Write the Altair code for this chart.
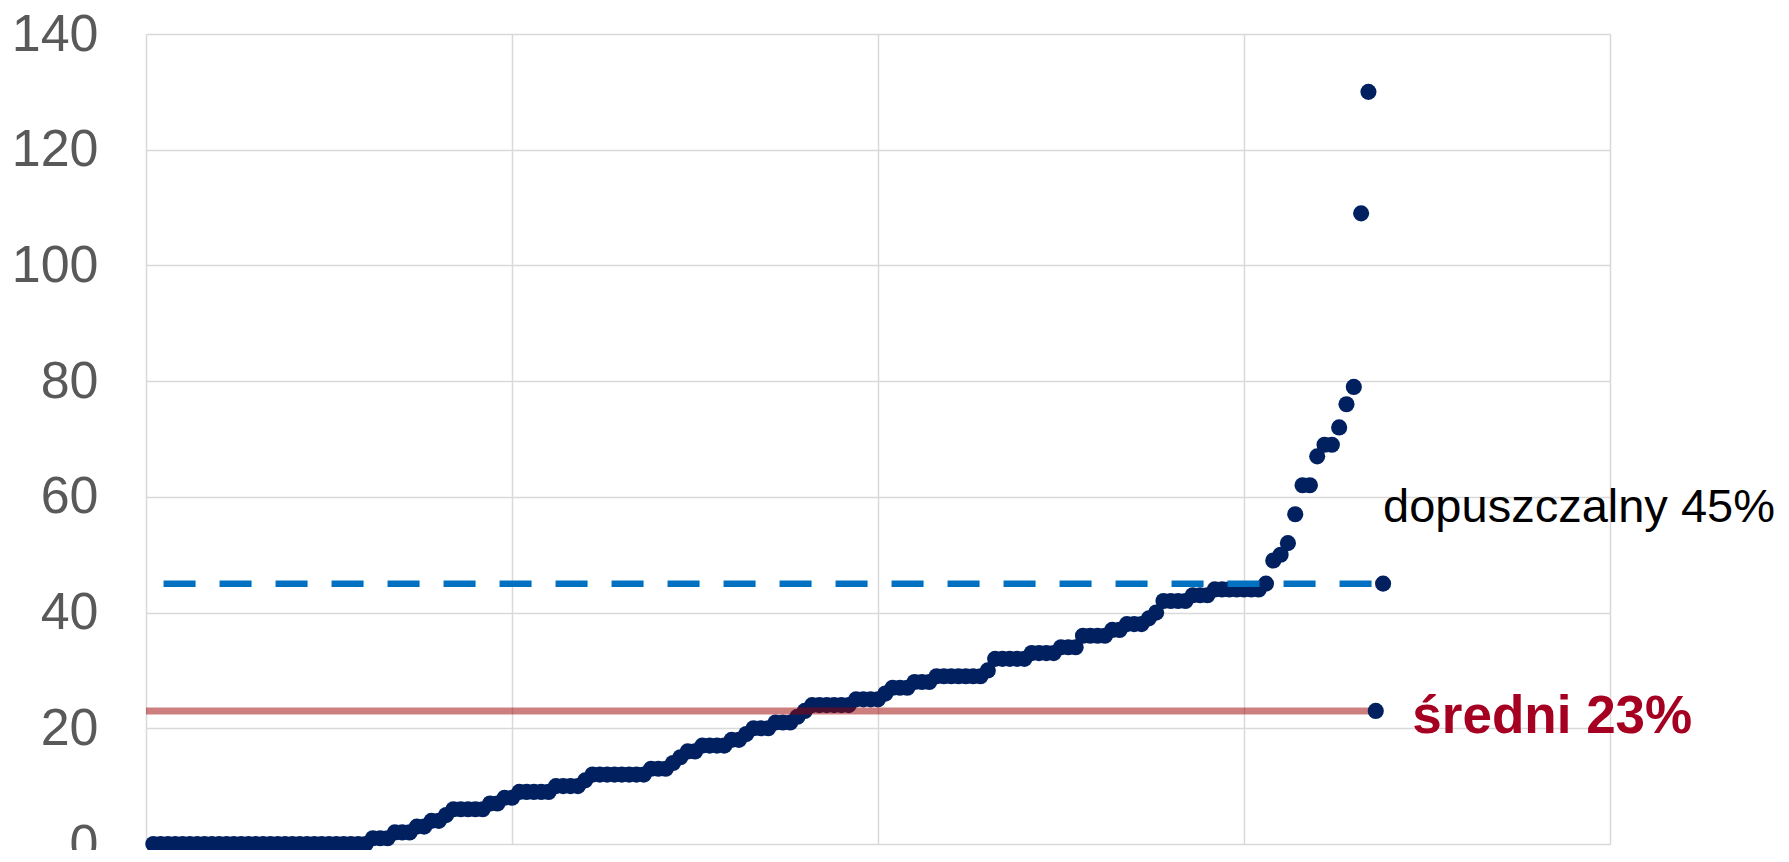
import altair as alt
import pandas as pd

# sorted observed values, one per position 1..167
values = [
    0, 0, 0, 0, 0, 0, 0, 0, 0, 0,
    0, 0, 0, 0, 0, 0, 0, 0, 0, 0,
    0, 0, 0, 0, 0, 0, 0, 0, 0, 0,
    1, 1, 1, 2, 2, 2, 3, 3, 4, 4,
    5, 6, 6, 6, 6, 6, 7, 7, 8, 8,
    9, 9, 9, 9, 9, 10, 10, 10, 10, 11,
    12, 12, 12, 12, 12, 12, 12, 12, 13, 13,
    13, 14, 15, 16, 16, 17, 17, 17, 17, 18,
    18, 19, 20, 20, 20, 21, 21, 21, 22, 23,
    24, 24, 24, 24, 24, 24, 25, 25, 25, 25,
    26, 27, 27, 27, 28, 28, 28, 29, 29, 29,
    29, 29, 29, 29, 30, 32, 32, 32, 32, 32,
    33, 33, 33, 33, 34, 34, 34, 36, 36, 36,
    36, 37, 37, 38, 38, 38, 39, 40, 42, 42,
    42, 42, 43, 43, 43, 44, 44, 44, 44, 44,
    44, 44, 45, 49, 50, 52, 57, 62, 62, 67,
    69, 69, 72, 76, 79, 109, 130,
]
positions = list(range(1, len(values) + 1))

limit_value = 45
limit_x = [2.4, 169]
limit_label = "dopuszczalny 45%"
limit_label_pos = [169, 55.7]

mean_value = 23
mean_x = [0, 168]
mean_label = "średni 23%"
mean_label_pos = [173, 19.1]

x_ticks = [0, 50, 100, 150, 200]
y_ticks = [0, 20, 40, 60, 80, 100, 120, 140]

pts = pd.DataFrame({"x": positions, "y": values})
lines = pd.DataFrame({
    "x": [mean_x[0], limit_x[0]],
    "x2": [mean_x[1], limit_x[1]],
    "y": [mean_value, limit_value],
    "kind": ["mean", "limit"],
})
ends = pd.DataFrame({"x": [mean_x[1], limit_x[1]], "y": [mean_value, limit_value]})
labels = pd.DataFrame({
    "x": [limit_label_pos[0], mean_label_pos[0]],
    "y": [limit_label_pos[1], mean_label_pos[1]],
    "t": [limit_label, mean_label],
})

xs = alt.Scale(domain=[0, 200], nice=False, zero=False)
ys = alt.Scale(domain=[0, 140], nice=False)

xax = alt.Axis(values=x_ticks, labels=False, ticks=False, domain=False, title=None,
               grid=True, gridColor="#D9D9D9", gridWidth=1.5)
yax = alt.Axis(values=y_ticks, ticks=False, tickSize=0, domain=False, title=None,
               grid=True, gridColor="#D9D9D9", gridWidth=1.5,
               labelFont="Liberation Sans", labelFontSize=52, labelColor="#595959",
               labelPadding=48)

DOT = 260

base_pts = alt.Chart(pts).mark_circle(size=DOT, color="#002060", opacity=1).encode(
    x=alt.X("x:Q", scale=xs, axis=xax),
    y=alt.Y("y:Q", scale=ys, axis=yax),
)

mean_rule = alt.Chart(lines[lines.kind == "mean"]).mark_rule(
    color="#9B0000", opacity=0.5, strokeWidth=7
).encode(x=alt.X("x:Q", scale=xs), x2="x2:Q", y=alt.Y("y:Q", scale=ys))

limit_rule = alt.Chart(lines[lines.kind == "limit"]).mark_rule(
    color="#0070C0", strokeWidth=6.5, strokeDash=[32, 24]
).encode(x=alt.X("x:Q", scale=xs), x2="x2:Q", y=alt.Y("y:Q", scale=ys))

end_pts = alt.Chart(ends).mark_circle(size=DOT, color="#002060", opacity=1).encode(
    x=alt.X("x:Q", scale=xs), y=alt.Y("y:Q", scale=ys)
)

limit_text = alt.Chart(labels.iloc[[0]]).mark_text(
    align="left", baseline="alphabetic", font="Liberation Sans", fontSize=47, color="#000000"
).encode(x=alt.X("x:Q", scale=xs), y=alt.Y("y:Q", scale=ys), text="t:N")

mean_text = alt.Chart(labels.iloc[[1]]).mark_text(
    align="left", baseline="alphabetic", font="Liberation Sans", fontSize=53,
    fontWeight="bold", color="#A50021"
).encode(x=alt.X("x:Q", scale=xs), y=alt.Y("y:Q", scale=ys), text="t:N")

chart = alt.layer(
    base_pts, mean_rule, limit_rule, end_pts, limit_text, mean_text
).properties(
    width=1464, height=810,
    autosize=alt.AutoSizeParams(type="none"),
    padding={"left": 138, "top": 26, "right": 170, "bottom": 6},
).configure_view(stroke=None)

chart.save("out.html", embed_options={"renderer": "svg", "actions": False})
